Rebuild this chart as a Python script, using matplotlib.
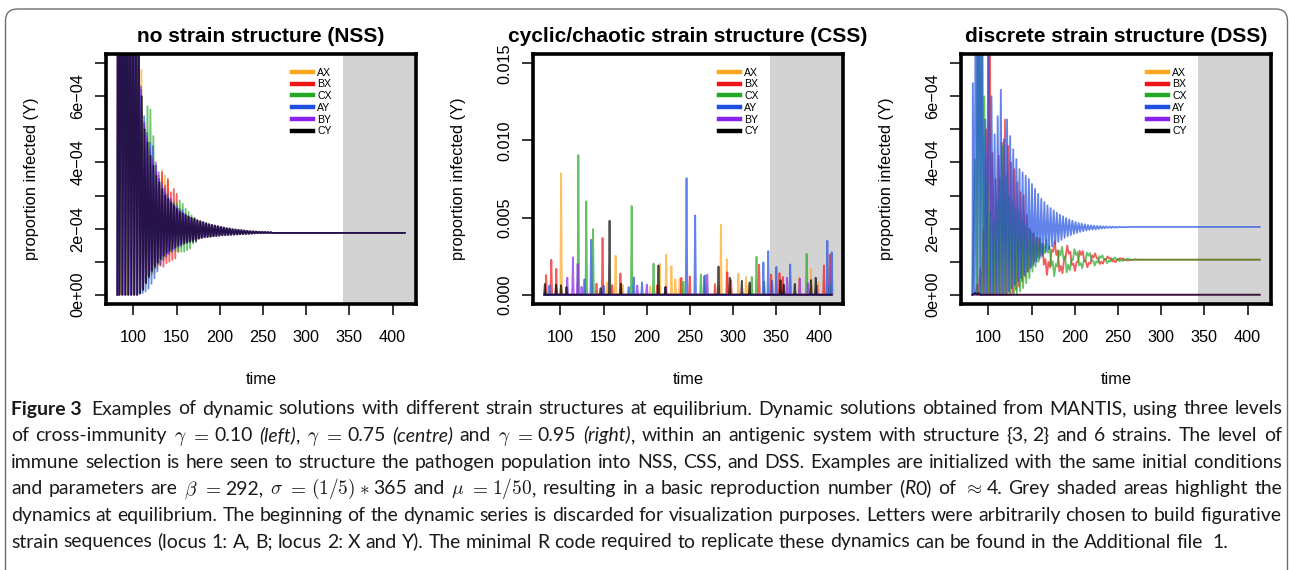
import re
import numpy as np
import matplotlib
matplotlib.use("Agg")
import matplotlib.pyplot as plt
from matplotlib.lines import Line2D
from matplotlib.patches import FancyBboxPatch
from matplotlib.transforms import IdentityTransform

W, H, DPI = 1290, 570, 100
plt.rcParams['font.family'] = ['Liberation Sans', 'DejaVu Sans']
plt.rcParams['mathtext.fontset'] = 'cm'

# ---------------- data ----------------
strains = ['AX', 'BX', 'CX', 'AY', 'BY', 'CY']
strain_colors = ['#FFA620', '#F01515', '#22A822', '#1F4FE0', '#8A22EE', '#000000']
titles = ['no strain structure (NSS)', 'cyclic/chaotic strain structure (CSS)',
          'discrete strain structure (DSS)']
time_ticks = [100, 150, 200, 250, 300, 350, 400]
small_ticks = [0, 1e-4, 2e-4, 3e-4, 4e-4, 5e-4, 6e-4, 7e-4]
small_tick_labels = ['0e+00', '', '2e\u221204', '', '4e\u221204', '', '6e\u221204', '']
css_ticks = [0.0, 0.005, 0.010, 0.015]
css_tick_labels = ['0.000', '0.005', '0.010', '0.015']
t_first, t_last = 81.5, 414.0
equilibrium_start = 343.0

# NSS: peaks / troughs per oscillation cycle (units of 1e-4)
nss_cycle_t = np.arange(82, 260, 3.4)
nss_phase = [0.0, 0.15, 0.3, -0.15, -0.3, 0.45]
nss_peaks = {
    'AX': [14, 13, 12, 11, 10, 9.5, 9, 8.5, 6.8, 5.0, 4.7, 4.3, 4.0, 3.7, 3.6, 3.77, 3.6, 3.45, 2.9, 2.75, 2.6, 2.5, 2.45, 2.4, 2.35, 2.3, 2.26],
    'BX': [14, 13, 12, 11, 10, 9.5, 9, 8.5, 5.6, 5.1, 4.7, 4.3, 4.0, 3.7, 3.5, 3.7, 3.3, 3.5, 3.1, 3.2, 3.05, 2.6, 2.5, 2.42, 2.37, 2.32, 2.28],
    'CX': [14, 13, 12, 11, 10, 9.5, 9, 8.5, 6.0, 5.2, 5.7, 5.6, 4.8, 3.9, 3.5, 3.3, 3.1, 3.0, 2.85, 2.8, 2.75, 2.85, 2.75, 2.6, 2.5, 2.4, 2.3],
    'AY': [14, 13, 12, 11, 10, 9.5, 9, 8.5, 6.2, 5.4, 4.9, 4.6, 4.5, 3.9, 3.5, 3.3, 3.1, 3.0, 2.85, 2.75, 2.65, 2.6, 2.55, 2.45, 2.37, 2.32, 2.28],
    'BY': [14, 13, 12, 11, 10, 9.5, 9, 8.5, 6.3, 5.2, 4.8, 4.4, 4.1, 4.0, 3.7, 3.4, 3.2, 3.05, 2.9, 2.75, 2.65, 2.55, 2.48, 2.42, 2.37, 2.32, 2.28],
    'CY': [14, 13, 12, 11, 10, 9.5, 9, 8.5, 6.0, 5.0, 4.6, 4.2, 3.9, 3.6, 3.4, 3.2, 3.0, 2.9, 2.8, 2.7, 2.6, 2.5, 2.45, 2.4, 2.36, 2.33, 2.32],
}
nss_troughs = {
    'AX': [0, 0, 0, 0, 0, 0, 0, 0.05, 0.15, 0.35, 0.5, 0.6, 0.66, 0.8, 0.95, 1.05, 1.1, 1.2, 1.35, 1.42, 1.48, 1.52, 1.56, 1.6, 1.63, 1.66, 1.68],
    'BX': [0, 0, 0, 0, 0, 0, 0, 0.05, 0.15, 0.35, 0.55, 0.7, 0.8, 0.9, 0.88, 0.85, 0.95, 1.0, 1.05, 1.1, 1.3, 1.45, 1.52, 1.57, 1.61, 1.64, 1.67],
    'CX': [0, 0, 0, 0, 0, 0, 0, 0.05, 0.15, 0.35, 0.5, 0.65, 0.8, 0.95, 1.05, 1.15, 1.22, 1.28, 1.3, 1.32, 1.3, 1.3, 1.3, 1.35, 1.4, 1.55, 1.65],
    'AY': [0, 0, 0, 0, 0, 0, 0, 0.02, 0.05, 0.1, 0.18, 0.33, 0.5, 0.7, 0.9, 1.05, 1.15, 1.25, 1.32, 1.38, 1.44, 1.48, 1.53, 1.57, 1.61, 1.64, 1.67],
    'BY': [0, 0, 0, 0, 0, 0, 0, 0.05, 0.2, 0.4, 0.6, 0.75, 0.9, 1.0, 1.15, 1.2, 1.2, 1.25, 1.3, 1.4, 1.47, 1.52, 1.56, 1.6, 1.63, 1.66, 1.68],
    'CY': [0, 0, 0, 0, 0, 0, 0, 0.05, 0.15, 0.35, 0.55, 0.72, 0.85, 0.97, 1.08, 1.18, 1.26, 1.33, 1.39, 1.44, 1.49, 1.53, 1.56, 1.58, 1.6, 1.6, 1.6],
}
nss_tail_peaks = [2.25, 2.22, 2.19, 2.16, 2.13, 2.11, 2.09, 2.07, 2.05, 2.03, 2.01, 2.0, 1.98,
                  1.97, 1.96, 1.95, 1.94, 1.93, 1.92, 1.915, 1.91, 1.905, 1.9, 1.895, 1.89, 1.885]
nss_tail_troughs = [1.70, 1.72, 1.74, 1.75, 1.76, 1.77, 1.78, 1.79, 1.80, 1.805, 1.81, 1.815, 1.82,
                    1.825, 1.83, 1.835, 1.84, 1.845, 1.85, 1.855, 1.86, 1.862, 1.864, 1.866, 1.868, 1.87]
nss_equilibrium = 1.87

# CSS: spikes (time, height in units of 1e-3)
css_spikes = {
    'AX': [(100.8, 7.88), (154, 0.8), (163.9, 2.53), (172, 0.65), (204, 0.55), (215, 2.0), (222.5, 2.6),
           (228.5, 1.85), (233, 1.0), (238, 1.05), (285.8, 4.53), (292.6, 2.31), (306, 1.35), (314.8, 1.15),
           (318, 0.6), (376.5, 1.1), (390, 1.68), (398.5, 0.8)],
    'BX': [(83.5, 1.28), (89.5, 2.27), (95.3, 1.68), (141.8, 0.72), (148.8, 3.68), (160, 0.62), (169.5, 1.38),
           (212, 0.62), (240, 1.1), (249.7, 1.19), (279, 0.7), (293.2, 1.45), (297.5, 0.95), (330, 1.95),
           (344, 1.3), (353.6, 1.4), (357.5, 1.15), (405, 1.9), (411.8, 2.6)],
    'CX': [(82.5, 0.15), (120.8, 9.05), (130, 6.05), (137.8, 4.25), (182.5, 5.75), (207.8, 2.02),
           (242.4, 0.85), (262.6, 1.3), (267.5, 1.25), (321.5, 1.15), (327, 2.46), (336, 0.84),
           (385, 2.65), (412, 0.6)],
    'AY': [(87.3, 0.6), (127.9, 1.0), (135.6, 3.56), (150, 0.58), (179, 0.5), (185, 1.12), (194.5, 0.8),
           (246, 7.55), (256, 5.14), (266.5, 1.2), (335, 2.1), (340.6, 2.83), (345, 0.9), (350, 1.8),
           (366, 1.96), (409, 3.5), (414, 2.75)],
    'BY': [(108, 1.1), (114.5, 2.42), (120, 2.0), (124.5, 0.52), (189, 0.6), (200, 0.66), (222, 0.52),
           (270, 1.3), (362.4, 1.1), (377, 1.05), (386.5, 0.76), (397, 0.6)],
    'CY': [(82, 0.7), (95, 0.65), (100.8, 0.62), (107, 0.5), (146.5, 0.43), (156.9, 4.8), (170, 0.72),
           (213.5, 1.9), (221.5, 0.5), (283, 1.83), (296, 1.1), (310, 0.9), (319, 0.8), (354.8, 0.95),
           (358.5, 0.65), (371.3, 0.7), (390, 0.95), (395.5, 1.1)],
}

# DSS: peaks / troughs per oscillation cycle (units of 1e-4)
dss_cycle_t = np.arange(82, 270, 3.6)
dss_phase = [0.6, 1.2, 2.4, 0.0, 1.8, 3.0]
dss_peaks = {
    'AX': [0.05, 0.05, 0.0],
    'BX': [0.0, 0.3, 0.8, 2.0, 5.0, 12.0, 4.3, 3.5, 4.2, 4.6, 5.3, 4.5, 4.0, 3.8, 3.4, 3.1, 3.0, 2.4, 2.0, 1.85, 1.7, 1.7,
           1.55, 1.08, 0.99, 1.36, 1.62, 1.34, 0.87, 1.07, 1.49, 1.30, 0.94, 0.99, 1.33, 1.32, 1.02, 0.97, 1.19, 1.25,
           1.10, 1.00, 1.08, 1.16, 1.11, 1.04, 1.05, 1.11, 1.10, 1.06, 1.05, 1.06, 1.07],
    'CX': [4.1, 12, 12, 6, 3.5, 2.5, 2.2, 2.8, 3.5, 4.5, 3.6, 3.0, 2.8, 2.6, 2.5, 2.3, 2.1, 2.0, 1.9, 1.85, 1.75, 1.7,
           1.54, 1.68, 1.47, 1.01, 0.93, 1.34, 1.45, 1.17, 0.91, 1.05, 1.38, 1.29, 0.96, 1.03, 1.27, 1.26, 1.03, 1.01,
           1.17, 1.19, 1.08, 1.03, 1.09, 1.13, 1.09, 1.05, 1.07, 1.09, 1.07, 1.06, 1.06],
    'AY': [6.4, 12, 12, 10, 5.3, 9, 6.0, 4.85, 5.4, 6.2, 4.7, 5.3, 4.8, 4.4, 4.1, 3.8, 3.7, 3.6, 3.5, 3.35, 3.2, 3.05,
           2.9, 2.8, 2.7, 2.62, 2.55, 2.48, 2.42, 2.37, 2.32, 2.28, 2.24, 2.2, 2.17, 2.15, 2.13, 2.11, 2.1, 2.09,
           2.08, 2.075, 2.07, 2.065, 2.06, 2.06, 2.055, 2.055, 2.05, 2.05, 2.05, 2.05, 2.05],
    'BY': [0.05, 0.05, 0.0],
    'CY': [0.05, 0.05, 0.0],
}
dss_troughs = {
    'AX': [0, 0, 0],
    'BX': [0] * 12 + [0.05, 0.15, 0.25, 0.4, 0.55, 0.7, 0.85, 1.0, 1.15,
                      1.2, 0.91, 0.60, 0.83, 1.30, 1.20, 0.71, 0.65, 1.13, 1.24, 0.90, 0.72, 0.99, 1.20, 1.02, 0.83,
                      0.94, 1.13, 1.10, 0.93, 0.94, 1.06, 1.09, 1.01, 0.98, 1.05, 1.07, 1.05, 1.03, 1.05, 1.06, 1.06],
    'CX': [0] * 14 + [0.1, 0.2, 0.35, 0.5, 0.7, 0.85, 1.0, 1.15,
                      1.26, 1.27, 0.88, 0.56, 0.85, 1.18, 1.07, 0.68, 0.74, 1.05, 1.20, 0.89, 0.80, 1.02, 1.18, 1.02,
                      0.88, 0.97, 1.12, 1.06, 0.95, 1.00, 1.07, 1.06, 1.02, 1.02, 1.05, 1.07, 1.05, 1.06, 1.06],
    'AY': [0, 0, 0, 0, 0, 0, 0, 0, 0, 0, 0.05, 0.1, 0.2, 0.3, 0.4, 0.5, 0.6, 0.7, 0.8, 0.9,
           1.0, 1.1, 1.2, 1.3, 1.38, 1.46, 1.53, 1.6, 1.66, 1.72, 1.77, 1.8, 1.84, 1.87, 1.9, 1.92, 1.94, 1.96,
           1.97, 1.98, 1.99, 2.0, 2.01, 2.02, 2.02, 2.03, 2.03, 2.04, 2.04, 2.04, 2.05, 2.05, 2.05],
    'BY': [0, 0, 0],
    'CY': [0, 0, 0],
}
dss_equilibrium = {'AX': 0.0, 'BX': 1.06, 'CX': 1.06, 'AY': 2.05, 'BY': 0.0, 'CY': 0.0}

caption_lines = [
    "*Figure~3*~ Examples of dynamic solutions with different strain structures at equilibrium. Dynamic solutions obtained from MANTIS, using three levels",
    "of cross-immunity $\\gamma$~$=$~0.10 _(left)_, $\\gamma$~$=$~0.75 _(centre)_ and $\\gamma$~$=$~0.95 _(right)_, within an antigenic system with structure {3,~2} and 6 strains. The level of",
    "immune selection is here seen to structure the pathogen population into NSS, CSS, and DSS. Examples are initialized with the same initial conditions",
    "and parameters are $\\beta$~$=$~292, $\\sigma$~$=$~$(1/5)$~$\\ast$~365 and $\\mu$~$=$~$1/50$, resulting in a basic reproduction number (_R_0) of $\\approx$~4. Grey shaded areas highlight the",
    "dynamics at equilibrium. The beginning of the dynamic series is discarded for visualization purposes. Letters were arbitrarily chosen to build figurative",
    "strain sequences (locus 1: A, B; locus 2: X and Y). The minimal R code required to replicate these dynamics can be found in the Additional file~ 1.",
]


# ---------------- helpers ----------------
def zigzag(cycle_t, offset, peaks, troughs, final, scale):
    ts, vs = [t_first], [0.0]
    period = cycle_t[1] - cycle_t[0]
    for tk, p, q in zip(cycle_t, peaks, troughs):
        ts += [tk + offset, tk + offset + period / 2]
        vs += [p, q]
    ts.append(t_last)
    vs.append(final)
    return np.array(ts), np.array(vs) * scale


def spike_series(events, scale, half=0.9):
    ts, vs = [t_first], [0.0]
    for t, h in sorted(events):
        ts += [t - half, t, t + half]
        vs += [0.0, h, 0.0]
    ts.append(t_last)
    vs.append(0.0)
    return np.array(ts), np.array(vs) * scale


fig = plt.figure(figsize=(W / DPI, H / DPI), dpi=DPI)
fig.patch.set_facecolor('white')

boxes = [(106, 54, 416, 304), (533, 54, 843, 304), (961, 54, 1271, 304)]
axes = []
for (x0, y0, x1, y1) in boxes:
    ax = fig.add_axes([x0 / W, 1 - y1 / H, (x1 - x0) / W, (y1 - y0) / H])
    axes.append(ax)

LW = 1.3
# NSS
ax = axes[0]
for s, c, ph in zip(strains, strain_colors, nss_phase):
    t, v = zigzag(nss_cycle_t, ph, nss_peaks[s] + nss_tail_peaks, nss_troughs[s] + nss_tail_troughs,
                  nss_equilibrium, 1e-4)
    ax.plot(t, v, color=c, lw=1.3, alpha=0.65, zorder=2)
# CSS
ax = axes[1]
for s, c in zip(strains, strain_colors):
    t, v = spike_series(css_spikes[s], 1e-3)
    ax.plot(t, v, color=c, lw=LW, alpha=0.7, zorder=2)
# DSS
ax = axes[2]
for s, c, ph in zip(strains, strain_colors, dss_phase):
    n = len(dss_peaks[s])
    t, v = zigzag(dss_cycle_t[:n], ph, dss_peaks[s], dss_troughs[s], dss_equilibrium[s], 1e-4)
    ax.plot(t, v, color=c, lw=LW, alpha=0.7, zorder=2)

FS = 11.8
for i, ax in enumerate(axes):
    ax.set_xlim(68.3, 427.1)
    ax.axvspan(equilibrium_start, 440, color='#D3D3D3', lw=0, zorder=0)
    if i == 1:
        ax.set_ylim(-0.0006, 0.0156)
        ax.set_yticks(css_ticks)
        ax.set_yticklabels(css_tick_labels, rotation=90, va='center')
    else:
        ax.set_ylim(-0.28e-4, 7.28e-4)
        ax.set_yticks(small_ticks)
        ax.set_yticklabels(small_tick_labels, rotation=90, va='center')
    ax.set_xticks(time_ticks)
    ax.set_xticklabels([str(v) for v in time_ticks])
    ax.tick_params(axis='both', direction='out', length=7.9, width=1.1, labelsize=11.7, color='black')
    ax.tick_params(axis='x', pad=10.5)
    ax.tick_params(axis='y', pad=7)
    for sp in ax.spines.values():
        sp.set_linewidth(2.6)
        sp.set_zorder(5)
    ax.set_title(titles[i], fontsize=15, fontweight='bold', pad=9)
    ax.set_xlabel('time', fontsize=FS)
    ax.xaxis.set_label_coords(0.5, -0.27)
    ax.set_ylabel('proportion infected (Y)', fontsize=FS)
    ax.yaxis.set_label_coords(-0.215, 0.5)
    handles = [Line2D([], [], color=c, lw=3.2) for c in strain_colors]
    ax.legend(handles, strains, loc='upper left', bbox_to_anchor=(0.6, 0.945), frameon=False,
              fontsize=7.6, handlelength=2.0, handletextpad=0.4, labelspacing=0.16,
              borderaxespad=0, borderpad=0)

# outer rounded border
border = FancyBboxPatch((5.5, -40), 1282, (H - 9) + 40, boxstyle='round,pad=0,rounding_size=12',
                        transform=IdentityTransform(), fill=False, ec='#6E6E6E', lw=1.0)
fig.add_artist(border)

# ---------------- caption ----------------
CAP_FAMILY = ['Lato', 'Open Sans', 'DejaVu Sans']
styles = {
    'n': dict(family=CAP_FAMILY),
    'i': dict(family=CAP_FAMILY, style='italic'),
    'b': dict(family=CAP_FAMILY, weight='bold'),
    'm': dict(family=CAP_FAMILY),
}


def parse_word(w):
    segs = re.findall(r'\$[^$]*\$|_[^_]+_|\*[^*]+\*|~|[^$_*~]+', w)
    out = []
    for s in segs:
        if s == '~':
            out.append(('', 'sp'))
        elif s.startswith('$'):
            out.append((s, 'm'))
        elif s.startswith('_'):
            out.append((s[1:-1], 'i'))
        elif s.startswith('*'):
            out.append((s[1:-1].replace('~', ' '), 'b'))
        else:
            out.append((s, 'n'))
    return out


renderer = fig.canvas.get_renderer()
X0, X1 = 11.0, 1282.0
base_size = 13.0

probe = fig.text(0, 0, 'n n', fontsize=base_size, family=CAP_FAMILY, transform=IdentityTransform())
probe2 = fig.text(0, 0, 'nn', fontsize=base_size, family=CAP_FAMILY, transform=IdentityTransform())
space0 = probe.get_window_extent(renderer).width - probe2.get_window_extent(renderer).width
probe.remove()
probe2.remove()

lines_art = []
for line in caption_lines:
    words = [parse_word(w) for w in line.split(' ') if w]
    arts = []
    for word in words:
        items = []
        for txt, st in word:
            if st == 'sp':
                items.append(None)
            else:
                items.append(fig.text(0, 0, txt, fontsize=base_size, color='#1A1A1A',
                                      transform=IdentityTransform(), va='baseline', ha='left', **styles[st]))
        arts.append(items)
    lines_art.append(arts)


def measure(arts, sp):
    return [[(a.get_window_extent(renderer).width if a is not None else sp * 0.85) for a in word]
            for word in arts]


ratios = []
for arts in lines_art[:-1]:
    ws = measure(arts, space0)
    natural = sum(sum(w) for w in ws) + space0 * (len(ws) - 1)
    ratios.append((X1 - X0) / natural)
size = base_size * min(ratios) * 0.995
space = space0 * size / base_size
for arts in lines_art:
    for word in arts:
        for a in word:
            if a is not None:
                a.set_fontsize(size)

baselines = [414.5 + 26.6 * i for i in range(len(caption_lines))]
for li, arts in enumerate(lines_art):
    ws = measure(arts, space)
    wsum = sum(sum(w) for w in ws)
    if li < len(lines_art) - 1 and len(ws) > 1:
        gap = (X1 - X0 - wsum) / (len(ws) - 1)
    else:
        gap = space
    x = X0
    y = H - baselines[li]
    for word, wl in zip(arts, ws):
        for a, w in zip(word, wl):
            if a is not None:
                a.set_position((x, y))
            x += w
        x += gap

fig.savefig('out.png', dpi=DPI)
